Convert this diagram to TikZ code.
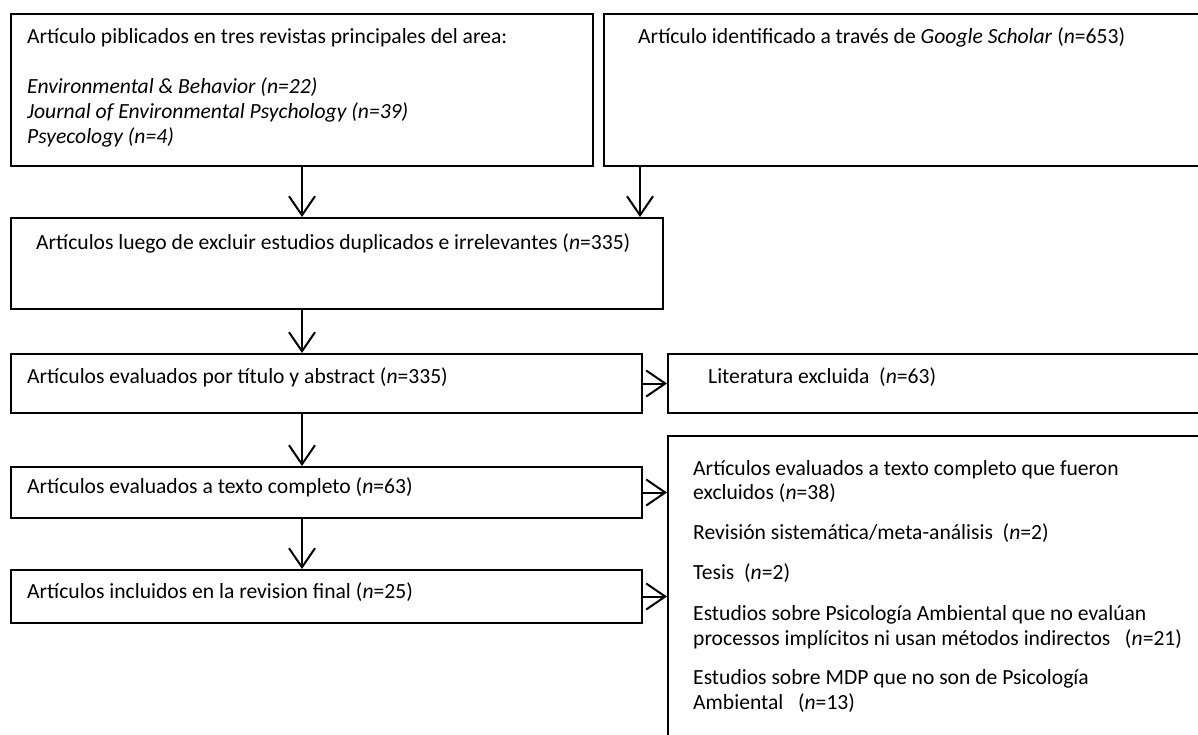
\documentclass[tikz,border=0pt]{standalone}
\usepackage{fontspec}
\setmainfont{Carlito}
\usetikzlibrary{arrows.meta}
\tikzset{
  box/.style={draw, line width=2pt, rectangle, anchor=north west, inner sep=0pt},
  txt/.style={anchor=mid west, inner sep=0pt, font=\fontsize{21.6}{25}\selectfont},
  arr/.style={line width=2pt, -{Straight Barb[length=19pt,width=26pt]}}
}
\begin{document}
\begin{tikzpicture}[x=1pt,y=-1pt]
        \useasboundingbox (0,0) rectangle (1198,734);
        % boxes
        \node[box, minimum width=582, minimum height=152] (src1) at (10,13) {};
        \node[box, minimum width=640, minimum height=152] (src2) at (603,13) {};
        \node[box, minimum width=652, minimum height=91] (dedup) at (10,217) {};
        \node[box, minimum width=631, minimum height=59] (screen) at (10,353) {};
        \node[box, minimum width=580, minimum height=59] (excl) at (667,353) {};
        \node[box, minimum width=631, minimum height=51] (full) at (10,466) {};
        \node[box, minimum width=580, minimum height=340] (fullexcl) at (667,435) {};
        \node[box, minimum width=631, minimum height=53] (incl) at (10,569) {};
        % texts
        \node[txt] (t1) at (27,41) {Artículo piblicados en tres revistas principales del area:};
        \foreach \y/\s [count=\i] in {91/{Environmental \& Behavior (n=22)}, 116/{Journal of Environmental Psychology (n=39)}, 141/{Psyecology (n=4)}}{
            \node[txt] (j\i) at (27,\y) {\textit{\s}};
        }
        \node[txt] (t2) at (638,41) {Artículo identificado a través de \textit{Google Scholar} (\textit{n}=653)};
        \node[txt] (t3) at (36,247) {Artículos luego de excluir estudios duplicados e irrelevantes (\textit{n}=335)};
        \node[txt] (t4) at (27,381) {Artículos evaluados por título y abstract (\textit{n}=335)};
        \node[txt] (t5) at (708,381) {Literatura excluida\ \ (\textit{n}=63)};
        \node[txt] (t6) at (27,491) {Artículos evaluados a texto completo (\textit{n}=63)};
        \node[txt] (t8) at (27,596) {Artículos incluidos en la revision final (\textit{n}=25)};
        \foreach \y/\s [count=\i] in {473/{Artículos evaluados a texto completo que fueron}, 497/{excluidos (\textit{n}=38)}, 537/{Revisión sistemática/meta-análisis\ \ (\textit{n}=2)}, 577/{Tesis\ \ (\textit{n}=2)}, 618/{Estudios sobre Psicología Ambiental que no evalúan}, 643/{processos implícitos ni usan métodos indirectos\ \ \ (\textit{n}=21)}, 682/{Estudios sobre MDP que no son de Psicología}, 707/{Ambiental\ \ \ (\textit{n}=13)}}{
            \node[txt] (r\i) at (693,\y) {\s};
        }
        % arrows
        \draw[arr] (src1.south) -- (src1.south |- dedup.north);
        \draw[arr] ([xshift=37pt]src2.south west) -- ([xshift=37pt]src2.south west |- dedup.north);
        \draw[arr] (dedup.south -| src1.south) -- (screen.north -| src1.south);
        \draw[arr] (screen.south -| src1.south) -- (full.north -| src1.south);
        \draw[arr] (full.south -| src1.south) -- (incl.north -| src1.south);
        \draw[arr] (screen.east) -- (excl.west |- screen.east);
        \draw[arr] (full.east) -- (fullexcl.west |- full.east);
        \draw[arr] (incl.east) -- (fullexcl.west |- incl.east);
\end{tikzpicture}
\end{document}
